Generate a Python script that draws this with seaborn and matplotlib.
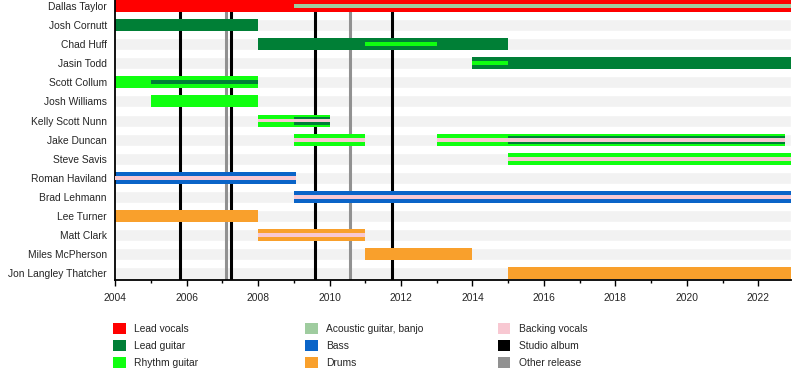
import matplotlib
matplotlib.use("Agg")
import matplotlib.pyplot as plt
from matplotlib.patches import Patch
import pandas as pd
import seaborn as sns

sns.set_theme(style="white")
plt.rcParams['font.family'] = ['Liberation Sans', 'DejaVu Sans']

END = 2022.92

members = ["Dallas Taylor", "Josh Cornutt", "Chad Huff", "Jasin Todd", "Scott Collum",
           "Josh Williams", "Kelly Scott Nunn", "Jake Duncan", "Steve Savis",
           "Roman Haviland", "Brad Lehmann", "Lee Turner", "Matt Clark",
           "Miles McPherson", "Jon Langley Thatcher"]

role_colors = {
    "Lead vocals": "#ff0000",
    "Lead guitar": "#007f36",
    "Rhythm guitar": "#10ff10",
    "Acoustic guitar, banjo": "#9fcc9f",
    "Bass": "#0a64c8",
    "Drums": "#f9a02c",
    "Backing vocals": "#f8c8d2",
    "Studio album": "#000000",
    "Other release": "#919191",
}

# main role bars: (member, role, start, end)
main_bars = [
    ("Dallas Taylor", "Lead vocals", 2004, END),
    ("Josh Cornutt", "Lead guitar", 2004, 2008),
    ("Chad Huff", "Lead guitar", 2008, 2015),
    ("Jasin Todd", "Lead guitar", 2014, END),
    ("Scott Collum", "Rhythm guitar", 2004, 2008),
    ("Josh Williams", "Rhythm guitar", 2005, 2008),
    ("Kelly Scott Nunn", "Rhythm guitar", 2008, 2010),
    ("Jake Duncan", "Rhythm guitar", 2009, 2011),
    ("Jake Duncan", "Rhythm guitar", 2013, 2022.75),
    ("Steve Savis", "Rhythm guitar", 2015, END),
    ("Roman Haviland", "Bass", 2004, 2009.05),
    ("Brad Lehmann", "Bass", 2009, END),
    ("Lee Turner", "Drums", 2004, 2008),
    ("Matt Clark", "Drums", 2008, 2011),
    ("Miles McPherson", "Drums", 2011, 2014),
    ("Jon Langley Thatcher", "Drums", 2015, END),
]

# secondary roles, medium strip
mid_bars = [
    ("Kelly Scott Nunn", "Lead guitar", 2009, 2010),
    ("Jake Duncan", "Lead guitar", 2015, 2022.75),
]

# secondary roles, thin strip
thin_bars = [
    ("Dallas Taylor", "Acoustic guitar, banjo", 2009, END),
    ("Chad Huff", "Rhythm guitar", 2011, 2013),
    ("Jasin Todd", "Rhythm guitar", 2014, 2015),
    ("Scott Collum", "Lead guitar", 2005, 2008),
    ("Kelly Scott Nunn", "Backing vocals", 2008, 2010),
    ("Jake Duncan", "Backing vocals", 2009, 2011),
    ("Jake Duncan", "Backing vocals", 2013, 2022.75),
    ("Steve Savis", "Backing vocals", 2015, END),
    ("Roman Haviland", "Backing vocals", 2004, 2009.05),
    ("Brad Lehmann", "Backing vocals", 2009, END),
    ("Matt Clark", "Backing vocals", 2008, 2011),
]

studio_albums = [2005.82, 2007.24, 2009.58, 2011.76]
other_releases = [2007.1, 2010.58]

year_ticks = list(range(2004, 2023, 2))


def to_frame(rows):
    df = pd.DataFrame(rows, columns=["member", "role", "start", "end"])
    df["y"] = df["member"].map({m: i for i, m in enumerate(members)})
    df["color"] = df["role"].map(role_colors)
    return df


fig = plt.figure(figsize=(8, 3.7), dpi=100)
ax = fig.add_axes([0.144, 0.243, 0.845, 0.757])

ypos = list(range(len(members)))
ax.barh(ypos, [END - 2004] * len(members), left=2004, height=0.63,
        color="#f2f2f2", zorder=0)

for x in studio_albums:
    ax.axvline(x, color=role_colors["Studio album"], lw=2.2, zorder=1)
for x in other_releases:
    ax.axvline(x, color=role_colors["Other release"], lw=2.2, zorder=1)

for rows, h, z in [(main_bars, 0.63, 2), (mid_bars, 0.42, 3), (thin_bars, 0.2, 4)]:
    df = to_frame(rows)
    ax.barh(df["y"], df["end"] - df["start"], left=df["start"], height=h,
            color=df["color"], zorder=z, linewidth=0)

FS = 7.4
ax.set_xlim(2004, END)
ax.set_ylim(14.35, -0.31)
ax.set_yticks(ypos)
ax.set_yticklabels(members, fontsize=FS)
ax.set_xticks(year_ticks)
ax.set_xticklabels([str(t) for t in year_ticks], fontsize=FS)
ax.set_xticks(range(2005, 2023, 2), minor=True)
ax.tick_params(axis="x", which="major", direction="out", length=4, width=1, color="black",
               bottom=True, pad=5)
ax.tick_params(axis="x", which="minor", direction="out", length=2.5, width=1, color="black",
               bottom=True)
ax.tick_params(axis="y", length=0, pad=6)
sns.despine(ax=ax, top=True, right=True)
for side in ["left", "bottom"]:
    ax.spines[side].set_color("black")
    ax.spines[side].set_linewidth(1.3)
ax.grid(False)

legend_cols = [
    (0.141, ["Lead vocals", "Lead guitar", "Rhythm guitar"]),
    (0.381, ["Acoustic guitar, banjo", "Bass", "Drums"]),
    (0.622, ["Backing vocals", "Studio album", "Other release"]),
]
for x, labels in legend_cols:
    handles = [Patch(facecolor=role_colors[l], edgecolor="none", label=l) for l in labels]
    fig.legend(handles=handles, loc="upper left", bbox_to_anchor=(x, 0.127),
               frameon=False, fontsize=FS, handlelength=1.25, handleheight=1.25,
               handletextpad=0.85, labelspacing=0.6, borderpad=0, borderaxespad=0)

fig.savefig("out.png", dpi=100)
